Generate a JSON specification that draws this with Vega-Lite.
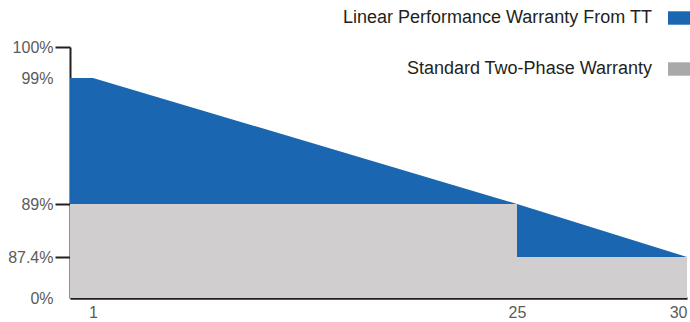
{
  "$schema": "https://vega.github.io/schema/vega-lite/v6.json",
  "width": 617,
  "height": 251,
  "autosize": {"type": "none"},
  "padding": {"left": 70, "top": 47, "right": 3, "bottom": 24},
  "background": "white",
  "config": {"view": {"stroke": null}, "font": "Liberation Sans"},
  "data": {
    "values": [
      {"year": 0, "pct": 99, "series": "Linear Performance Warranty From TT"},
      {"year": 1, "pct": 99, "series": "Linear Performance Warranty From TT"},
      {"year": 25, "pct": 89, "series": "Linear Performance Warranty From TT"},
      {"year": 30, "pct": 87.4, "series": "Linear Performance Warranty From TT"},
      {"year": 0, "pct": 89, "series": "Standard Two-Phase Warranty"},
      {"year": 25, "pct": 87.4, "series": "Standard Two-Phase Warranty"},
      {"year": 30, "pct": 87.4, "series": "Standard Two-Phase Warranty"}
    ]
  },
  "encoding": {
    "x": {
      "field": "year",
      "type": "quantitative",
      "scale": {"domain": [0, 1, 25, 30], "range": [0, 23, 447, 617], "nice": false, "zero": false},
      "axis": {
        "values": [1, 25, 30],
        "ticks": false,
        "grid": false,
        "title": null,
        "labelFontSize": 16,
        "labelColor": "#5b5b5b",
        "labelPadding": 6,
        "labelFlush": true,
        "domainColor": "#231f20",
        "domainWidth": 2.5
      }
    },
    "y": {
      "field": "pct",
      "type": "quantitative",
      "stack": null,
      "scale": {"domain": [0, 87.4, 89, 99, 100], "range": [251, 210, 157, 31, 0], "nice": false},
      "axis": {
        "values": [0, 87.4, 89, 99, 100],
        "labelExpr": "datum.value + '%'",
        "grid": false,
        "title": null,
        "tickSize": 15,
        "tickWidth": 2,
        "tickColor": {"condition": {"test": "datum.value == 0 || datum.value == 99", "value": "transparent"}, "value": "#231f20"},
        "domainColor": "#231f20",
        "domainWidth": 2,
        "labelFontSize": 16,
        "labelColor": "#5b5b5b",
        "labelPadding": 2,
        "labelOverlap": false
      }
    }
  },
  "layer": [
    {
      "transform": [{"filter": "datum.series == 'Linear Performance Warranty From TT'"}],
      "mark": {"type": "area", "interpolate": "linear", "opacity": 1},
      "encoding": {
        "color": {
          "field": "series",
          "type": "nominal",
          "scale": {
            "domain": ["Linear Performance Warranty From TT", "Standard Two-Phase Warranty"],
            "range": ["#1a66b0", "#a9a9a9"]
          },
          "legend": {
            "orient": "none",
            "legendX": 598,
            "legendY": -40,
            "title": null,
            "direction": "vertical",
            "symbolType": "M-1,-0.61H1V0.61H-1Z",
            "symbolSize": 484,
            "symbolStrokeWidth": 0,
            "symbolOpacity": 1,
            "labelAlign": "right",
            "labelOffset": -38,
            "labelFontSize": 18,
            "labelColor": "#231f20",
            "labelLimit": 400,
            "rowPadding": 31,
            "padding": 0
          }
        }
      }
    },
    {
      "transform": [{"filter": "datum.series == 'Standard Two-Phase Warranty'"}],
      "mark": {"type": "area", "interpolate": "step-after", "opacity": 1, "color": "#d0cecf"}
    }
  ]
}
